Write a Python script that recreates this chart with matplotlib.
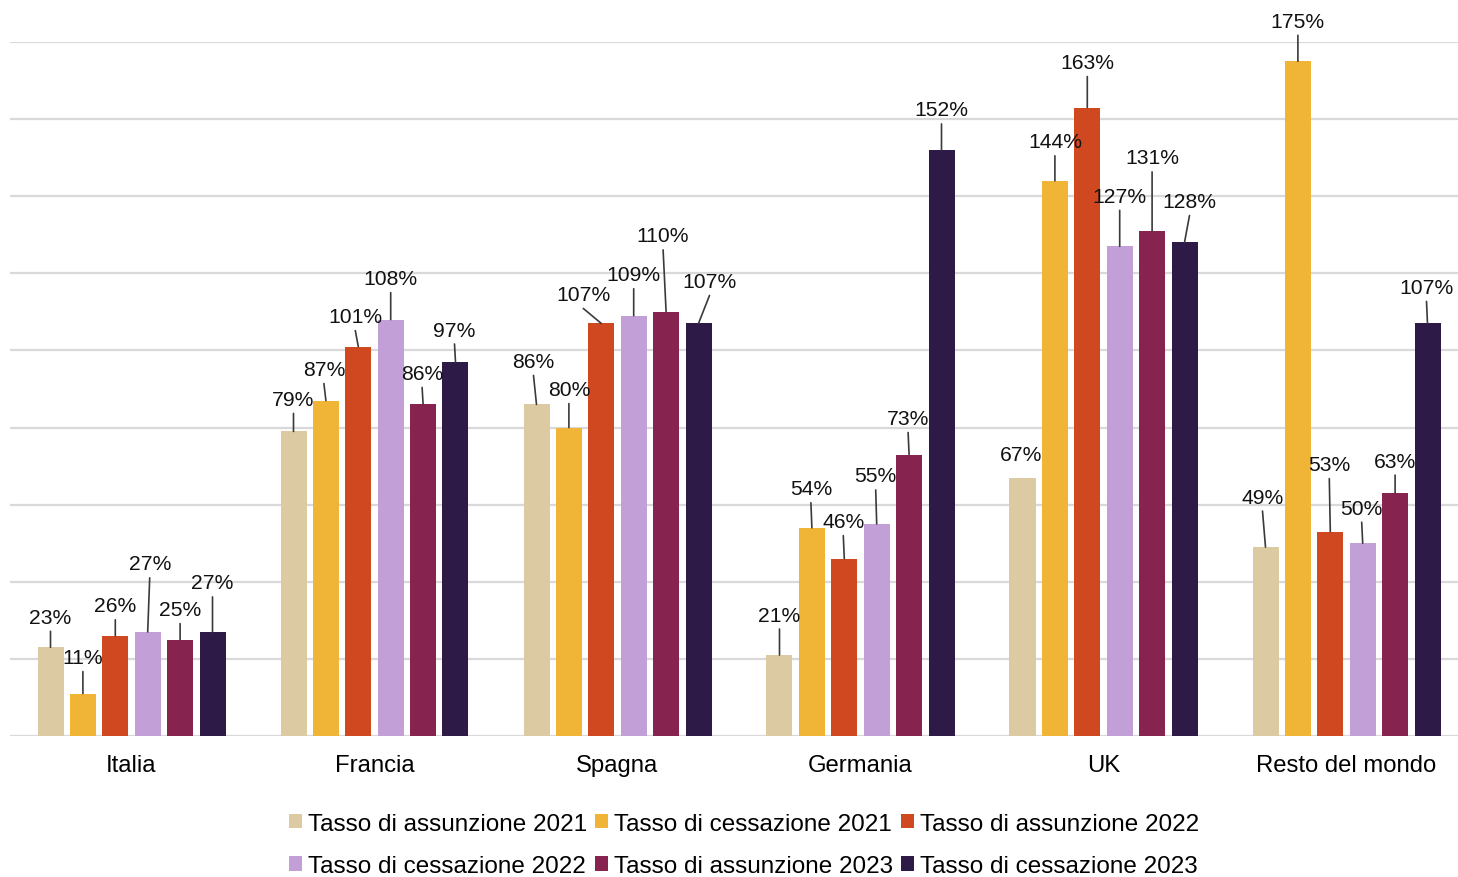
import matplotlib
matplotlib.use("Agg")
import matplotlib.pyplot as plt
import numpy as np

plt.rcParams['font.family'] = ['Liberation Sans', 'DejaVu Sans']

# ---- data ----
categories = ["Italia", "Francia", "Spagna", "Germania", "UK", "Resto del mondo"]
series_names = [
    "Tasso di assunzione 2021",
    "Tasso di cessazione 2021",
    "Tasso di assunzione 2022",
    "Tasso di cessazione 2022",
    "Tasso di assunzione 2023",
    "Tasso di cessazione 2023",
]
assunzione_2021 = [23, 79, 86, 21, 67, 49]
cessazione_2021 = [11, 87, 80, 54, 144, 175]
assunzione_2022 = [26, 101, 107, 46, 163, 53]
cessazione_2022 = [27, 108, 109, 55, 127, 50]
assunzione_2023 = [25, 86, 110, 73, 131, 63]
cessazione_2023 = [27, 97, 107, 152, 128, 107]
series_values = [assunzione_2021, cessazione_2021, assunzione_2022,
                 cessazione_2022, assunzione_2023, cessazione_2023]

# ---- style ----
colors = ["#DCCBA2", "#F0B437", "#D0481F", "#C2A0D7", "#86244F", "#2D1A46"]

# label offsets (pixels) per category, per series: (dx, dy above bar top)
label_offsets = [
    [(0, 30), (0, 36), (0, 30), (2, 68), (0, 30), (0, 49)],
    [(0, 32), (-2, 31), (-3, 30), (0, 41), (-1, 31), (-1, 32)],
    [(-3, 43), (0, 38), (-18, 29), (0, 41), (-3, 76), (11, 42)],
    [(0, 40), (-1, 39), (-1, 37), (-1, 48), (-1, 36), (0, 40)],
    [(-1, 23), (0, 39), (0, 45), (0, 50), (0, 73), (5, 41)],
    [(-3, 50), (0, 40), (-1, 67), (-1, 35), (0, 32), (-1, 36)],
]

W, H = 1458, 878
fig = plt.figure(figsize=(W / 100, H / 100), dpi=100)
ax_left, ax_right, ax_top, ax_bottom = 10, 1458, 43, 737
ax = fig.add_axes([ax_left / W, 1 - ax_bottom / H,
                   (ax_right - ax_left) / W, (ax_bottom - ax_top) / H])

cat_px = 243.0
x = np.arange(len(categories))
step = 32.4 / cat_px
bw = 26.0 / cat_px

handles = []
for i, (name, vals, col) in enumerate(zip(series_names, series_values, colors)):
    xs = x + (i - 2.5) * step
    b = ax.bar(xs, vals, width=bw, color=col, label=name, zorder=3)
    handles.append(b)
    for j, (xx, v) in enumerate(zip(xs, vals)):
        dx, dy = label_offsets[j][i]
        ax.annotate(f"{v}%", xy=(xx, v), xytext=(dx, dy),
                    textcoords='offset pixels', ha='center', va='center',
                    fontsize=15.2, color='#111111', zorder=5,
                    annotation_clip=False)
        if dy - 14 >= 12:
            ax.annotate('', xy=(xx, v), xytext=(dx, dy - 14),
                        textcoords='offset pixels',
                        arrowprops=dict(arrowstyle='-', color='#3a3a3a',
                                        lw=1.2, shrinkA=0, shrinkB=0),
                        zorder=4, annotation_clip=False)

ax.set_xlim(-0.5, -0.5 + (ax_right - ax_left) / cat_px)
ax.set_ylim(0, 180)
ax.set_yticks(np.arange(0, 181, 20))
ax.set_yticklabels([])
ax.yaxis.grid(True, color='#D9D9D9', lw=1.6, zorder=0)
ax.set_axisbelow(True)
ax.tick_params(axis='y', length=0)
ax.set_xticks(x)
ax.set_xticklabels(categories, fontsize=17.2)
ax.tick_params(axis='x', length=0, pad=13)
for s in ax.spines.values():
    s.set_visible(False)

order = [0, 3, 1, 4, 2, 5]
leg = fig.legend([handles[k] for k in order], [series_names[k] for k in order],
                 ncol=3, loc='center', bbox_to_anchor=(744 / W, 1 - 846 / H),
                 frameon=False, fontsize=17.5, handlelength=0.55, handleheight=0.55,
                 handletextpad=0.25, columnspacing=0.3, labelspacing=0.85,
                 borderpad=0, borderaxespad=0)

fig.savefig("out.png", dpi=100)
